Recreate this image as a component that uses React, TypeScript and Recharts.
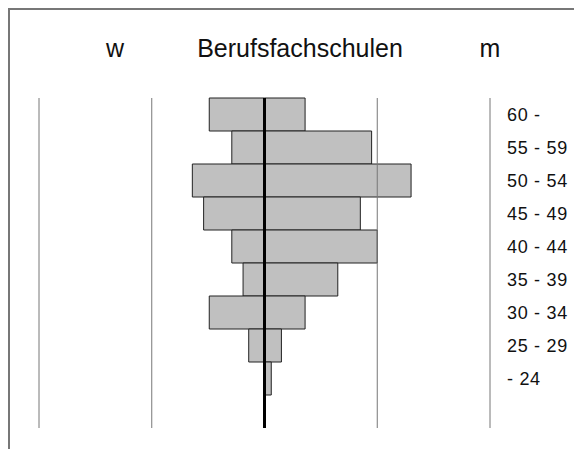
import { BarChart, Bar, XAxis, YAxis, ReferenceLine } from "recharts";

const ageGroups = ["60 -", "55 - 59", "50 - 54", "45 - 49", "40 - 44", "35 - 39", "30 - 34", "25 - 29", "- 24", ""];
const women = [4.9, 2.9, 6.4, 5.4, 2.9, 1.9, 4.9, 1.4, 0, null];
const men = [3.6, 9.5, 13.0, 8.5, 10.0, 6.5, 3.6, 1.5, 0.6, null];
const gridValues = [-20, -10, 10, 20];

const data = ageGroups.map((age, i) => ({
  age,
  w: women[i] == null ? null : -(women[i] as number),
  m: men[i],
}));

const font = "'Liberation Sans', Arial, sans-serif";

export default function App() {
  const titleStyle = {
    position: "absolute" as const,
    top: 26,
    lineHeight: "25px",
    textAlign: "center" as const,
    fontSize: 25,
    color: "#111",
  };
  return (
    <div
      style={{
        position: "relative",
        width: 574,
        height: 441,
        borderTop: "2px solid #777",
        borderLeft: "2px solid #777",
        boxSizing: "border-box",
        fontFamily: font,
        overflow: "hidden",
      }}
    >
      <div style={{ ...titleStyle, left: 55, width: 100 }}>w</div>
      <div style={{ ...titleStyle, left: 140, width: 300 }}>Berufsfachschulen</div>
      <div style={{ ...titleStyle, left: 430, width: 100 }}>m</div>
      <BarChart
        width={572}
        height={439}
        data={data}
        layout="vertical"
        stackOffset="sign"
        barCategoryGap={0}
        margin={{ top: 88, right: 32, bottom: 21, left: 29 }}
      >
        <XAxis type="number" domain={[-20, 20]} hide />
        <YAxis
          type="category"
          dataKey="age"
          orientation="right"
          width={60}
          axisLine={false}
          tickLine={false}
          tickSize={0}
          tickMargin={17}
          tick={{ fontSize: 18, fill: "#111", fontFamily: font, letterSpacing: 0.7 }}
          interval={0}
        />
        {gridValues.map((v) => (
          <ReferenceLine key={v} x={v} stroke="#777" strokeWidth={1} />
        ))}
        <Bar dataKey="w" stackId="a" fill="#c0c0c0" stroke="#222" strokeWidth={1} isAnimationActive={false} />
        <Bar dataKey="m" stackId="a" fill="#c0c0c0" stroke="#222" strokeWidth={1} isAnimationActive={false} />
        <ReferenceLine x={0} stroke="#000" strokeWidth={3} />
      </BarChart>
    </div>
  );
}
